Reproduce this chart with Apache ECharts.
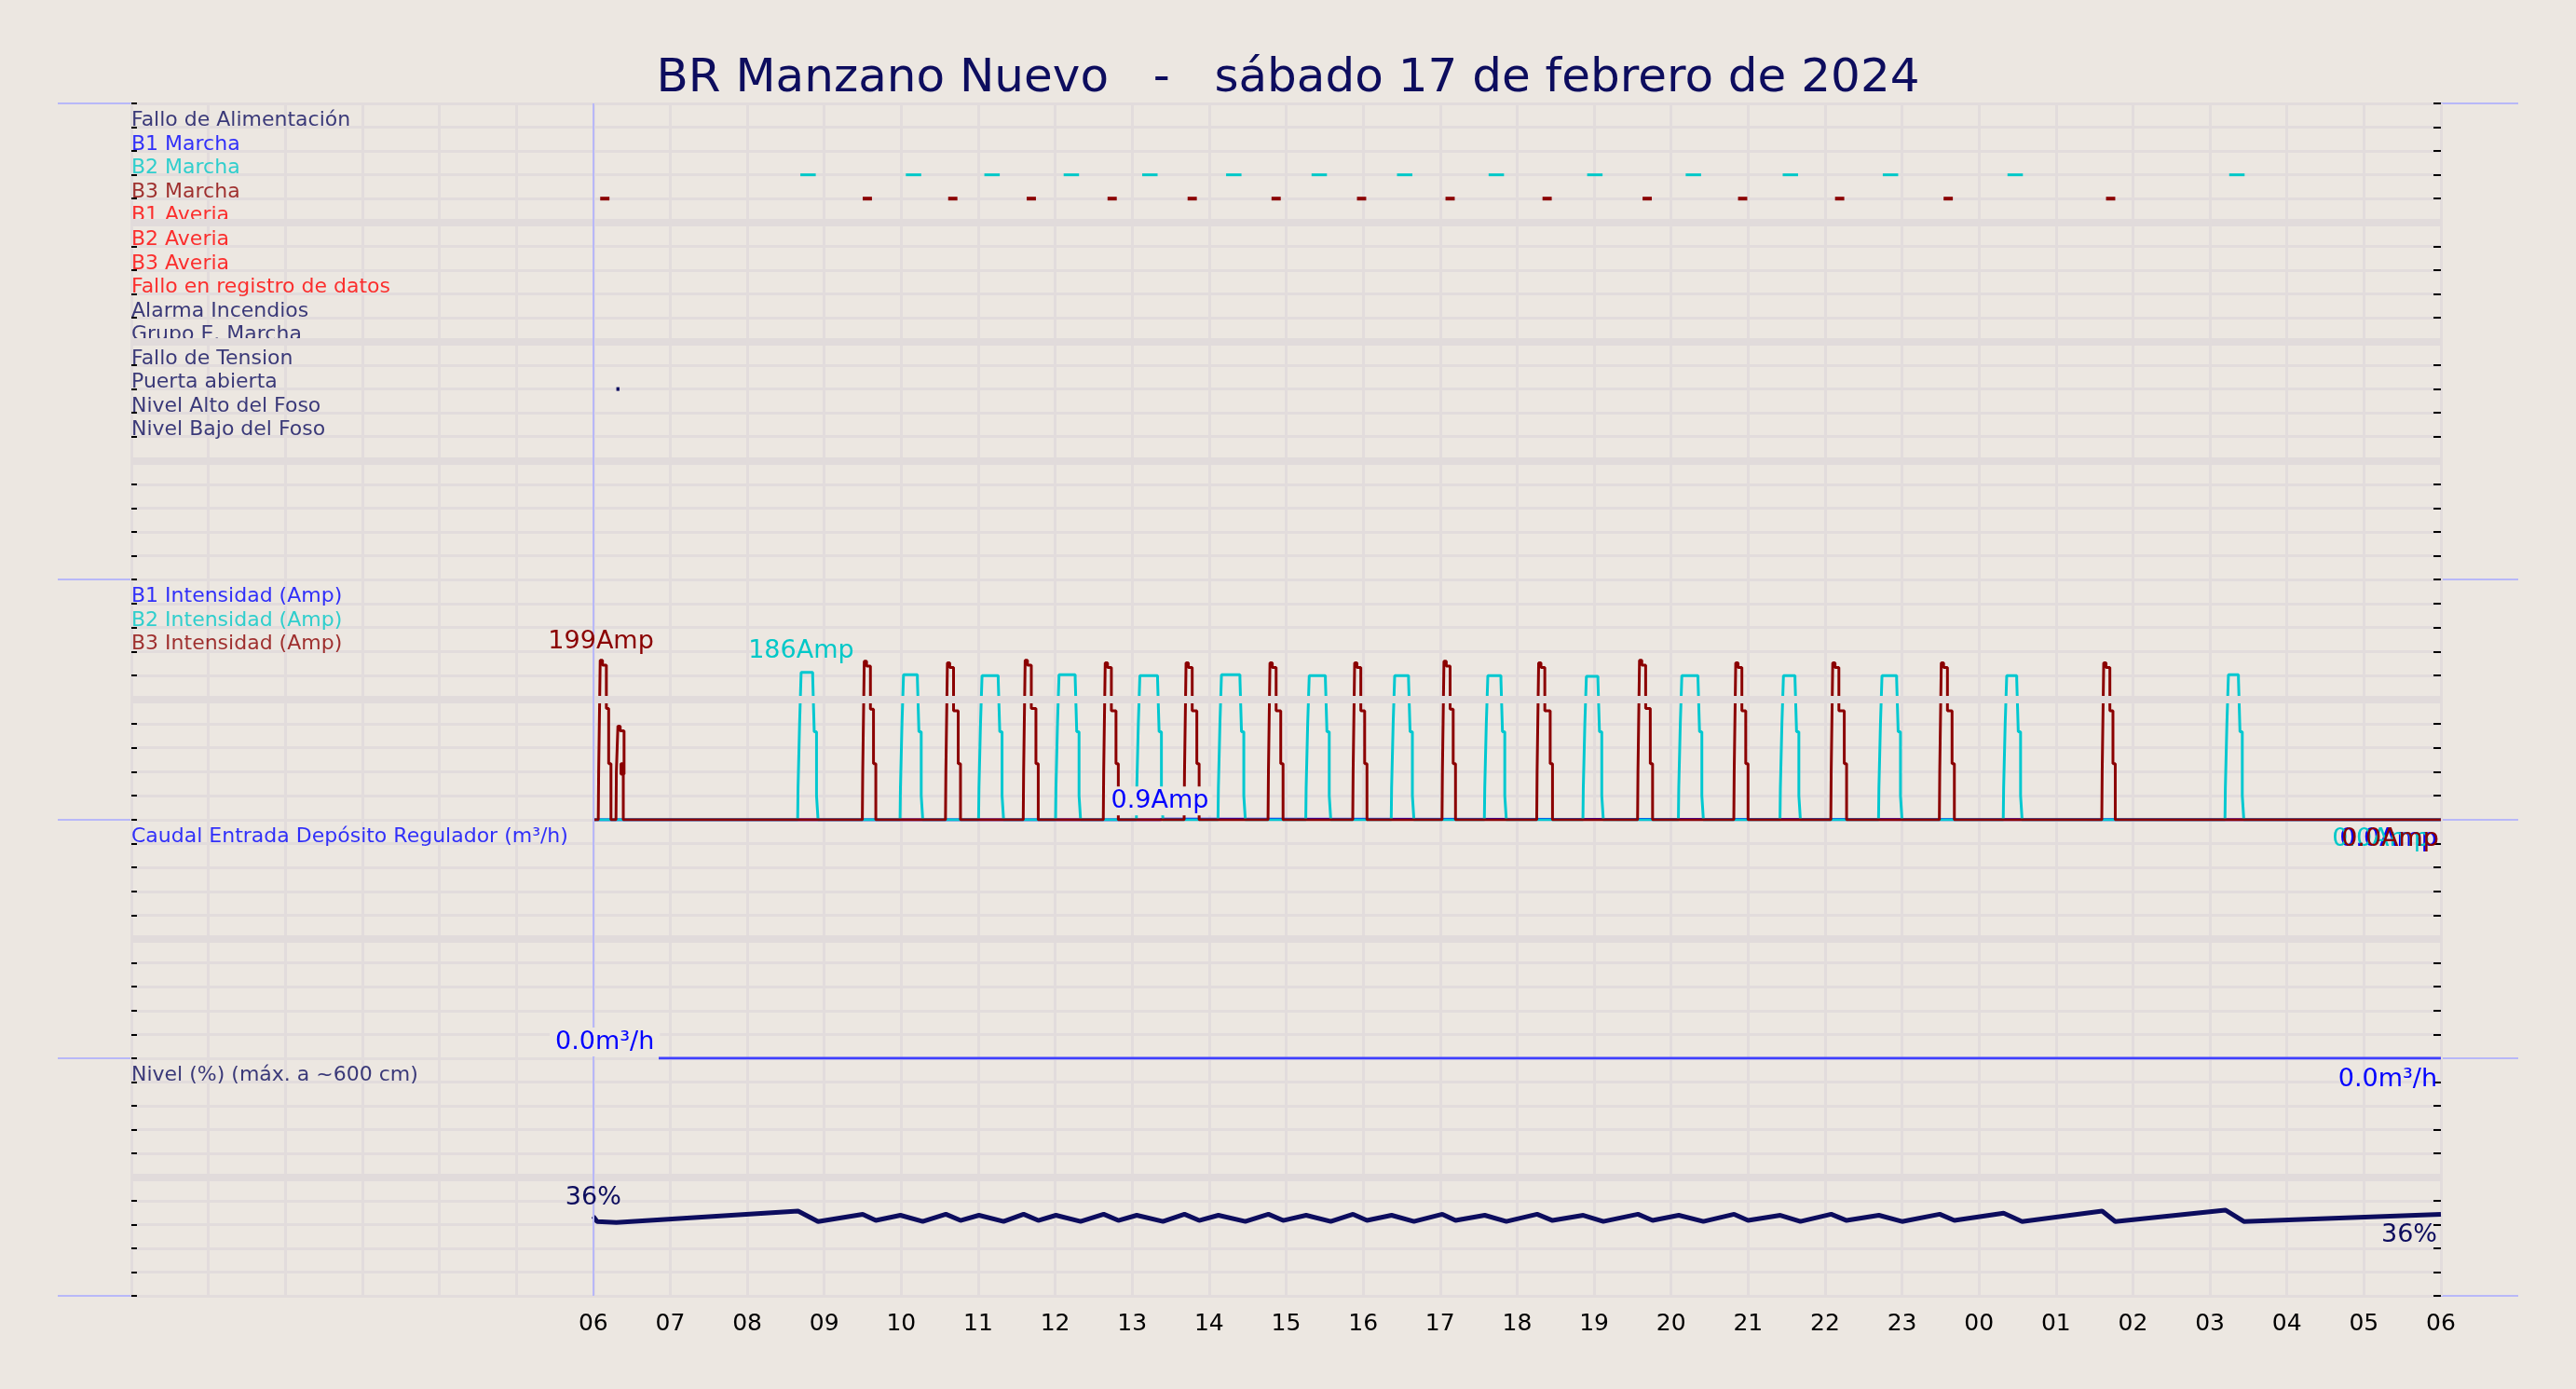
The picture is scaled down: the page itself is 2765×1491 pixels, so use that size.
<!DOCTYPE html>
<html><head><meta charset="utf-8">
<script src="https://cdn.jsdelivr.net/npm/echarts@6/dist/echarts.min.js"></script>
<style>html,body{margin:0;padding:0;background:#ece7e1}#c{width:2765px;height:1491px}</style>
</head><body><div id="c"></div>
<script>
const title = 'BR Manzano Nuevo   -   sábado 17 de febrero de 2024';
const signalNames = ['Fallo de Alimentación','B1 Marcha','B2 Marcha','B3 Marcha','B1 Averia','B2 Averia','B3 Averia','Fallo en registro de datos','Alarma Incendios','Grupo E. Marcha','Fallo de Tension','Puerta abierta','Nivel Alto del Foso','Nivel Bajo del Foso'];
const signalColors = ['#0d0d5e','#0000ff','#00c8c8','#8b0000','#ff0000','#ff0000','#ff0000','#ff0000','#0d0d5e','#0d0d5e','#0d0d5e','#0d0d5e','#0d0d5e','#0d0d5e'];
// [start hour, end hour]
const b2Marks = [[8.69,8.89],[10.06,10.26],[11.08,11.28],[12.11,12.31],[13.13,13.33],[14.22,14.42],[15.33,15.53],[16.44,16.64],[17.63,17.83],[18.91,19.11],[20.19,20.39],[21.45,21.65],[22.75,22.95],[24.37,24.57],[27.25,27.45]];
const b3Marks = [[6.09,6.21],[9.50,9.62],[10.61,10.73],[11.63,11.75],[12.68,12.80],[13.72,13.84],[14.81,14.93],[15.92,16.04],[17.07,17.19],[18.33,18.45],[19.63,19.75],[20.87,20.99],[22.13,22.25],[23.54,23.66],[25.65,25.77]];
const doorMarks = [[6.30,6.34]];
// pump current pulses [start, end, peak Amp]
const b3Pulses = [[6.07,6.23,199],[6.30,6.39,117],[9.50,9.67,198],[10.58,10.77,196],[11.59,11.78,199],[12.63,12.82,196],[13.68,13.87,196],[14.77,14.96,196],[15.87,16.05,196],[17.03,17.20,198],[18.26,18.46,196],[19.57,19.76,199],[20.82,21.00,196],[22.08,22.28,196],[23.49,23.68,196],[25.60,25.77,196]];
const b2Pulses = [[8.66,8.92,184],[9.99,10.28,181],[11.01,11.33,180],[12.01,12.33,181],[13.06,13.40,180],[14.12,14.47,181],[15.26,15.58,180],[16.37,16.66,180],[17.58,17.86,180],[18.86,19.12,179],[20.10,20.42,180],[21.42,21.68,180],[22.70,23.00,180],[24.32,24.56,180],[27.20,27.44,181]];
const b1Amp = [[6.0,0],[13.36,0.9],[13.4,0],[30,0]];
const flow = [[6.85,0],[30,0]];
const level = [[6.0,38.5],[6.05,36],[6.3,35.5],[8.66,41],[8.92,36],[9.5,39.5],[9.67,36.5],[9.99,39],[10.28,36],[10.58,39.5],[10.77,36.5],[11.01,39],[11.33,36],[11.59,39.5],[11.78,36.5],[12.01,39],[12.33,36],[12.63,39.5],[12.82,36.5],[13.06,39],[13.40,36],[13.68,39.5],[13.87,36.5],[14.12,39],[14.47,36],[14.77,39.5],[14.96,36.5],[15.26,39],[15.58,36],[15.87,39.5],[16.05,36.5],[16.37,39],[16.66,36],[17.03,39.5],[17.20,36.5],[17.58,39],[17.86,36],[18.26,39.5],[18.46,36.5],[18.86,39],[19.12,36],[19.57,39.5],[19.76,36.5],[20.10,39],[20.42,36],[20.82,39.5],[21.00,36.5],[21.42,39],[21.68,36],[22.08,39.5],[22.28,36.5],[22.70,39],[23.00,36],[23.49,39.5],[23.68,36.5],[24.32,40],[24.56,36],[25.60,41],[25.77,36],[27.20,41.5],[27.44,36],[30,39.5]];
const hourLabels = ['','','','','','','06','07','08','09','10','11','12','13','14','15','16','17','18','19','20','21','22','23','00','01','02','03','04','05','06'];

function b3Shape(p){const [a,b,k]=p;return [[a-0.005,0],[a,60],[a+0.02,k],[a+0.05,k-6],[a+0.1,k-60],[b-0.03,70],[b,0]];}
function b2Shape(p){const [a,b,k]=p;return [[a-0.005,0],[a,40],[a+0.02,120],[a+0.04,k],[b-0.07,k-5],[b-0.05,110],[b-0.02,30],[b,0]];}
const b3Data=[[6,0]].concat(...b3Pulses.map(b3Shape),[[30,0]]);
const b2Data=[[6,0]].concat(...b2Pulses.map(b2Shape),[[30,0]]);

const BG='#ece7e1', GL='#e2dcdc', NAVY='#0d0d5e', FONT='DejaVu Sans';
const L=141, R=145;
const grids=[{top:111,height:511},{top:622,height:258},{top:880,height:256},{top:1136,height:255}];
const yCfg=[{min:0,max:20,interval:1,inverse:true,mids:[5,10,15]},{min:0,max:300,interval:30,mids:[150]},{min:0,max:10,interval:1,mids:[5]},{min:0,max:115,interval:11.5,mids:[57.5]}];

const xAxis=grids.map((g,i)=>({gridIndex:i,type:'value',min:0,max:30,interval:1,
  axisLine:{show:false},axisTick:{show:false},
  axisLabel:{show:i===3,formatter:v=>hourLabels[v]||'',fontSize:25,color:'#000',fontFamily:FONT,margin:18},
  splitLine:{show:true,lineStyle:{color:GL,width:3}}}));
const yAxis=[];
grids.forEach((g,i)=>{const c=yCfg[i];
  yAxis.push({gridIndex:i,type:'value',min:c.min,max:c.max,interval:c.interval,inverse:!!c.inverse,position:'left',
    axisLine:{show:false},axisLabel:{show:false},axisTick:{show:true,inside:true,length:6,lineStyle:{color:'#000',width:2}},
    splitLine:{show:true,lineStyle:{color:GL,width:3}}});});
grids.forEach((g,i)=>{const c=yCfg[i];
  yAxis.push({gridIndex:i,type:'value',min:c.min,max:c.max,interval:c.interval,inverse:!!c.inverse,position:'right',
    axisLine:{show:false},axisLabel:{show:false},axisTick:{show:true,inside:true,length:8,lineStyle:{color:'#000',width:2}},
    splitLine:{show:false}});});

const series=[];
grids.forEach((g,i)=>{
  series.push({type:'line',xAxisIndex:i,yAxisIndex:i,data:[],silent:true,
    markLine:{silent:true,symbol:'none',label:{show:false},
      data:yCfg[i].mids.map(v=>({yAxis:v,lineStyle:{color:'#e1dbdb',width:8,type:'solid'}})).concat([{xAxis:6,lineStyle:{color:'#b8b8f8',width:2,type:'solid'}}])}});
});
const TL={show:true,position:'right',distance:0,align:'left',verticalAlign:'bottom',fontSize:22,fontFamily:FONT};
series.push({type:'scatter',xAxisIndex:0,yAxisIndex:0,symbolSize:0,silent:true,
  data:signalNames.map((n,i)=>({value:[0,i+1],name:n,label:{color:signalColors[i]}})),
  label:{...TL,formatter:p=>p.name,offset:[0,4]}});
function marks(arr,row,color,h){return {type:'custom',xAxisIndex:0,yAxisIndex:0,silent:true,
  data:arr.map(m=>[m[0],m[1],row]),encode:{x:[0,1],y:2},
  renderItem:(p,api)=>{const s=api.coord([api.value(0),api.value(2)]),e=api.coord([api.value(1),api.value(2)]);
    return {type:'rect',shape:{x:s[0],y:s[1]-h/2,width:Math.max(e[0]-s[0],3),height:h},style:{fill:color}};}};}
series.push(marks(b2Marks,3,'#00c8c8',3));
series.push(marks(b3Marks,4,'#8b0000',4));
series.push(marks(doorMarks,12,NAVY,4));
series.push({type:'scatter',xAxisIndex:1,yAxisIndex:1,symbolSize:0,silent:true,
  data:[{value:[0,300],name:'B1 Intensidad (Amp)',label:{color:'#0000ff'}},{value:[0,270],name:'B2 Intensidad (Amp)',label:{color:'#00c8c8'}},{value:[0,240],name:'B3 Intensidad (Amp)',label:{color:'#8b0000'}}],
  label:{...TL,formatter:p=>p.name,offset:[0,29]}});
const valLab={fontSize:27,fontFamily:FONT};
series.push({type:'line',xAxisIndex:1,yAxisIndex:1,data:b1Amp,symbol:'none',step:'end',lineStyle:{color:'#0000ff',width:3},z:2,
  markPoint:{symbol:'rect',symbolSize:0,silent:true,data:[
    {coord:[13.36,0.9],label:{show:true,formatter:'0.9Amp',position:'top',distance:4,color:'#0000ff',backgroundColor:BG,padding:[2,4],...valLab}},
    {coord:[30,0],label:{show:true,formatter:'0.0Amp',position:'bottom',align:'right',offset:[-4,2],color:'#0000ff',...valLab}}]}});
series.push({type:'line',xAxisIndex:1,yAxisIndex:1,data:b2Data,symbol:'none',step:'end',lineStyle:{color:'#00c8d0',width:3},z:3,
  markPoint:{symbol:'rect',symbolSize:0,silent:true,data:[
    {coord:[8.7,186],label:{show:true,formatter:'186Amp',position:'top',distance:8,color:'#00c8c8',...valLab}},
    {coord:[30,0],label:{show:true,formatter:'0.0Amp',position:'bottom',align:'right',offset:[-12,2],color:'#00c8c8',...valLab}}]}});
series.push({type:'line',xAxisIndex:1,yAxisIndex:1,data:b3Data,symbol:'none',step:'end',lineStyle:{color:'#8b0000',width:3},z:4,
  markPoint:{symbol:'rect',symbolSize:0,silent:true,data:[
    {coord:[6.1,199],label:{show:true,formatter:'199Amp',position:'top',distance:6,color:'#8b0000',...valLab}},
    {coord:[30,0],label:{show:true,formatter:'0.0Amp',position:'bottom',align:'right',offset:[-2,2],color:'#8b0000',...valLab}}]}});
series.push({type:'scatter',xAxisIndex:2,yAxisIndex:2,symbolSize:0,silent:true,
  data:[{value:[0,10],name:'Caudal Entrada Depósito Regulador (m³/h)'}],
  label:{...TL,formatter:p=>p.name,offset:[0,29],color:'#0000ff'}});
series.push({type:'line',xAxisIndex:2,yAxisIndex:2,data:flow,symbol:'none',lineStyle:{color:'#4040ff',width:3},
  markPoint:{symbol:'rect',symbolSize:0,silent:true,data:[
    {coord:[6.15,0],label:{show:true,formatter:'0.0m³/h',position:'top',distance:2,color:'#0000ff',backgroundColor:BG,padding:[2,6],...valLab}},
    {coord:[30,0],label:{show:true,formatter:'0.0m³/h',position:'bottom',align:'right',offset:[-4,4],color:'#0000ff',...valLab}}]}});
series.push({type:'scatter',xAxisIndex:3,yAxisIndex:3,symbolSize:0,silent:true,
  data:[{value:[0,115],name:'Nivel (%) (máx. a ~600 cm)'}],
  label:{...TL,formatter:p=>p.name,offset:[0,29],color:NAVY}});
series.push({type:'line',xAxisIndex:3,yAxisIndex:3,data:level,symbol:'none',lineStyle:{color:NAVY,width:5},
  markPoint:{symbol:'rect',symbolSize:0,silent:true,data:[
    {coord:[6.0,38.5],label:{show:true,formatter:'36%',position:'top',distance:6,color:NAVY,...valLab}},
    {coord:[30,39.5],label:{show:true,formatter:'36%',position:'bottom',align:'right',offset:[-4,4],color:NAVY,...valLab}}]}});

const sepY=[111,622,880,1136,1391];
const chart=echarts.init(document.getElementById('c'));
chart.setOption({
  backgroundColor:BG,animation:false,
  title:{text:title,left:'center',top:55,textStyle:{fontSize:50,fontWeight:'normal',color:NAVY,fontFamily:FONT}},
  grid:grids.map(g=>({left:L,right:R,top:g.top,height:g.height})),
  xAxis,yAxis,series,
  graphic:sepY.map(y=>({type:'line',silent:true,z:0,shape:{x1:62,y1:y,x2:2703,y2:y},style:{stroke:'#b8b8f8',lineWidth:2}}))
});
</script></body></html>
